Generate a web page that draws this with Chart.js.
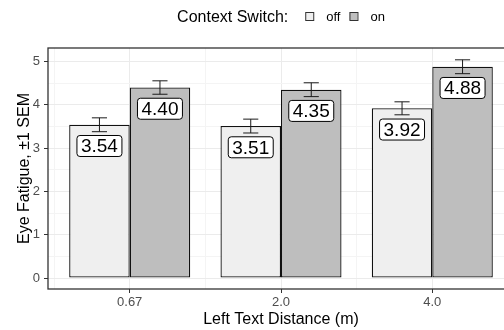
<!DOCTYPE html>
<html>
<head>
<meta charset="utf-8">
<script src="https://cdn.jsdelivr.net/npm/chart.js@4.4.1/dist/chart.umd.min.js"></script>
<style>
  html, body { margin: 0; padding: 0; background: #fff; overflow: hidden; width: 504px; height: 330px; }
  canvas { display: block; }
</style>
</head>
<body>
<!-- the original plot is wider than the picture, so the canvas runs past the right edge -->
<canvas id="chart" width="562" height="330"></canvas>
<script>
// Eye fatigue by left text distance, split by context switch
const distances = ['0.67', '2.0', '4.0'];
const offMeans = [3.54, 3.51, 3.92];
const onMeans = [4.40, 4.35, 4.88];
const offSem = [0.16, 0.16, 0.15];
const onSem = [0.155, 0.16, 0.16];
const yTickValues = [0, 0.5, 1, 1.5, 2, 2.5, 3, 3.5, 4, 4.5, 5];
const xTickValues = [0.5, 1, 1.5, 2, 2.5, 3, 3.5];

const FONT = '"Liberation Sans", Arial, Helvetica, sans-serif';
const legendTitle = 'Context Switch:';

const isMajor = v => Number.isInteger(v);
const tickIsMajor = c => !!(c && c.tick && isMajor(c.tick.value));

// error bars + value labels
const errorBarsAndLabels = {
    id: 'errorBarsAndLabels',
    afterDatasetsDraw(chart) {
        const ctx = chart.ctx;
        const y = chart.scales.y;
        chart.data.datasets.forEach((ds, di) => {
            const meta = chart.getDatasetMeta(di);
            meta.data.forEach((bar, i) => {
                const v = ds.data[i].y;
                const s = ds.sem[i];
                const top = y.getPixelForValue(v + s);
                const bot = y.getPixelForValue(v - s);
                const cap = bar.width * 0.125;
                ctx.save();
                ctx.strokeStyle = '#1a1a1a';
                ctx.lineWidth = 1;
                ctx.beginPath();
                ctx.moveTo(bar.x, top); ctx.lineTo(bar.x, bot);
                ctx.moveTo(bar.x - cap, top); ctx.lineTo(bar.x + cap, top);
                ctx.moveTo(bar.x - cap, bot); ctx.lineTo(bar.x + cap, bot);
                ctx.stroke();

                // label box sits a bit under the bar top
                const cy = y.getPixelForValue(v - 0.49);
                const text = v.toFixed(2);
                ctx.font = '19px ' + FONT;
                const w = ctx.measureText(text).width + 8;
                const h = 21;
                ctx.beginPath();
                ctx.roundRect(bar.x - w / 2, cy - h / 2, w, h, 3);
                ctx.fillStyle = '#fff';
                ctx.fill();
                ctx.strokeStyle = '#000';
                ctx.stroke();
                ctx.fillStyle = '#000';
                ctx.textAlign = 'center';
                ctx.textBaseline = 'middle';
                ctx.fillText(text, bar.x, cy + 1);
                ctx.restore();
            });
        });
    }
};

// panel border and the inline legend on top
const panelAndLegend = {
    id: 'panelAndLegend',
    afterDraw(chart) {
        const ctx = chart.ctx;
        const a = chart.chartArea;
        ctx.save();
        ctx.strokeStyle = '#333';
        ctx.lineWidth = 1.3;
        ctx.strokeRect(a.left, a.top, a.right - a.left, a.bottom - a.top);

        // legend
        const cx = (a.left + a.right) / 2;
        ctx.font = '16px ' + FONT;
        const titleW = ctx.measureText(legendTitle).width;
        ctx.font = '13px ' + FONT;
        const items = chart.data.datasets.map(ds => ({
            label: ds.label,
            color: ds.backgroundColor,
            w: ctx.measureText(ds.label).width
        }));
        const key = 8, gapTitle = 17, gapKey = 13, gapItem = 9;
        const total = titleW + gapTitle +
            items.reduce((acc, it) => acc + key + gapKey + it.w, 0) +
            gapItem * (items.length - 1);
        let x = cx - total / 2;

        ctx.fillStyle = '#000';
        ctx.textAlign = 'left';
        ctx.textBaseline = 'alphabetic';
        ctx.font = '16px ' + FONT;
        ctx.fillText(legendTitle, x, 22);
        x += titleW + gapTitle;

        ctx.font = '13px ' + FONT;
        ctx.lineWidth = 1;
        items.forEach(it => {
            ctx.fillStyle = it.color;
            ctx.fillRect(x, 12, key, key);
            ctx.strokeStyle = '#333';
            ctx.strokeRect(x + 0.5, 12.5, key, key);
            x += key + gapKey;
            ctx.fillStyle = '#000';
            ctx.fillText(it.label, x, 21);
            x += it.w + gapItem;
        });
        ctx.restore();
    }
};

const gridStyle = {
    offset: false,
    color: c => tickIsMajor(c) ? '#EBEBEB' : '#F4F4F4',
    lineWidth: 1,
    drawTicks: true,
    tickLength: 4,
    tickColor: c => tickIsMajor(c) ? '#333' : 'rgba(0,0,0,0)',
    tickWidth: 1
};

new Chart(document.getElementById('chart'), {
    type: 'bar',
    data: {
        datasets: [
            {
                label: 'off',
                data: offMeans.map((v, i) => ({ x: i + 1, y: v })),
                sem: offSem,
                backgroundColor: '#EFEFEF',
                borderColor: '#111',
                borderWidth: 1.3,
                borderSkipped: false
            },
            {
                label: 'on',
                data: onMeans.map((v, i) => ({ x: i + 1, y: v })),
                sem: onSem,
                backgroundColor: '#BEBEBE',
                borderColor: '#111',
                borderWidth: 1.3,
                borderSkipped: false
            }
        ]
    },
    options: {
        responsive: false,
        animation: false,
        // half-step grid ticks halve the bar ruler, hence 1.6 (= 0.8 of a category)
        categoryPercentage: 1.6,
        barPercentage: 1,
        layout: { padding: { left: 0, top: 48, right: 48, bottom: 0 } },
        plugins: {
            legend: { display: false },
            tooltip: { enabled: false }
        },
        scales: {
            x: {
                type: 'linear',
                offset: false,
                min: 0.46,
                max: 3.54,
                afterBuildTicks: s => { s.ticks = xTickValues.map(v => ({ value: v })); },
                afterFit: s => { s.height = 41; },
                border: { display: false },
                grid: gridStyle,
                ticks: {
                    autoSkip: false,
                    maxRotation: 0,
                    padding: 2,
                    color: '#4D4D4D',
                    font: { family: FONT, size: 13 },
                    callback: v => isMajor(v) ? distances[v - 1] : ''
                },
                title: {
                    display: true,
                    text: 'Left Text Distance (m)',
                    color: '#000',
                    font: { family: FONT, size: 16 },
                    padding: { top: 0, bottom: 1 }
                }
            },
            y: {
                min: -0.253,
                max: 5.313,
                afterBuildTicks: s => { s.ticks = yTickValues.map(v => ({ value: v })); },
                afterFit: s => { s.width = 48; },
                border: { display: false },
                grid: gridStyle,
                ticks: {
                    padding: 4,
                    color: '#4D4D4D',
                    font: { family: FONT, size: 13 },
                    callback: v => isMajor(v) ? String(v) : ''
                },
                title: {
                    display: true,
                    text: 'Eye Fatigue, ±1 SEM',
                    color: '#000',
                    font: { family: FONT, size: 16 },
                    padding: { top: 15, bottom: 0 }
                }
            }
        }
    },
    plugins: [errorBarsAndLabels, panelAndLegend]
});
</script>
</body>
</html>
